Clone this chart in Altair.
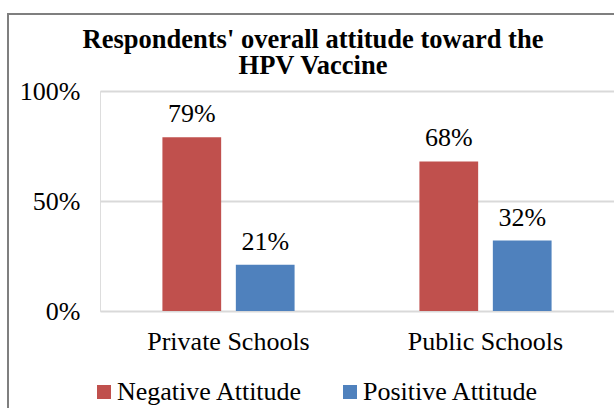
import altair as alt
import pandas as pd

categories = ["Private Schools", "Private Schools", "Public Schools", "Public Schools"]
attitudes = ["Negative Attitude", "Positive Attitude", "Negative Attitude", "Positive Attitude"]
values = [0.79, 0.21, 0.68, 0.32]
labels = ["79%", "21%", "68%", "32%"]
title_lines = ["Respondents' overall attitude toward the", "HPV Vaccine"]

df = pd.DataFrame({"school": categories, "attitude": attitudes, "value": values, "label": labels})

FONT = "Liberation Serif"
FS = 26

x = alt.X("school:N", title=None, sort=["Private Schools", "Public Schools"],
          scale=alt.Scale(paddingInner=0, paddingOuter=0),
          axis=alt.Axis(labelAngle=0, domain=False, ticks=False, labelFont=FONT,
                        labelFontSize=FS, labelColor="black", labelPadding=17))
xo = alt.XOffset("attitude:N", sort=["Negative Attitude", "Positive Attitude"],
                 scale=alt.Scale(paddingInner=0.2, paddingOuter=0.85))
y = alt.Y("value:Q", title=None, scale=alt.Scale(domain=[0, 1]),
          axis=alt.Axis(values=[0, 0.5, 1], format=".0%", domain=False, ticks=False,
                        labelFont=FONT, labelFontSize=FS, labelColor="black",
                        labelPadding=20, gridColor="#d9d9d9", gridWidth=2))

color = alt.Color("attitude:N", sort=["Negative Attitude", "Positive Attitude"],
                  scale=alt.Scale(domain=["Negative Attitude", "Positive Attitude"],
                                  range=["#C0504D", "#4F81BD"]),
                  legend=alt.Legend(title=None, orient="none", direction="horizontal",
                                    legendX=-9, legendY=288, symbolType="square",
                                    symbolSize=196, symbolStrokeWidth=0, symbolOpacity=1,
                                    labelFont=FONT, labelFontSize=FS, labelColor="black",
                                    labelOffset=0, columnPadding=34, labelLimit=400))

bars = alt.Chart(df).mark_bar().encode(x=x, xOffset=xo, y=y, color=color)
text = alt.Chart(df).mark_text(font=FONT, fontSize=FS, baseline="bottom", dy=-10, color="black").encode(
    x=x, xOffset=xo, y=y, text="label:N")

title_df = pd.DataFrame({"line": title_lines, "row": [0, 1]})
title = alt.Chart(title_df).mark_text(font=FONT, fontSize=26.5, fontWeight="bold", color="black",
                                      baseline="alphabetic", align="center", clip=False).encode(
    x=alt.value(213),
    y=alt.Y("row:Q", axis=None, scale=alt.Scale(domain=[0, 1], range=[-43, -17])),
    text="line:N")

border = alt.Chart(df).mark_rect(fill=None, stroke="#7f7f7f", strokeWidth=2, clip=False).encode(
    x=alt.value(-92), y=alt.value(-77), x2=alt.value(560), y2=alt.value(400))

chart = alt.layer(bars, text, title, border).resolve_scale(y="independent").properties(
    width=514, height=220,
    autosize=alt.AutoSizeParams(type="none"),
    padding={"left": 100, "top": 91, "right": 0, "bottom": 97},
).configure_view(stroke=None).configure(background="white")

chart.save("out.html", embed_options={"renderer": "svg", "actions": False})
